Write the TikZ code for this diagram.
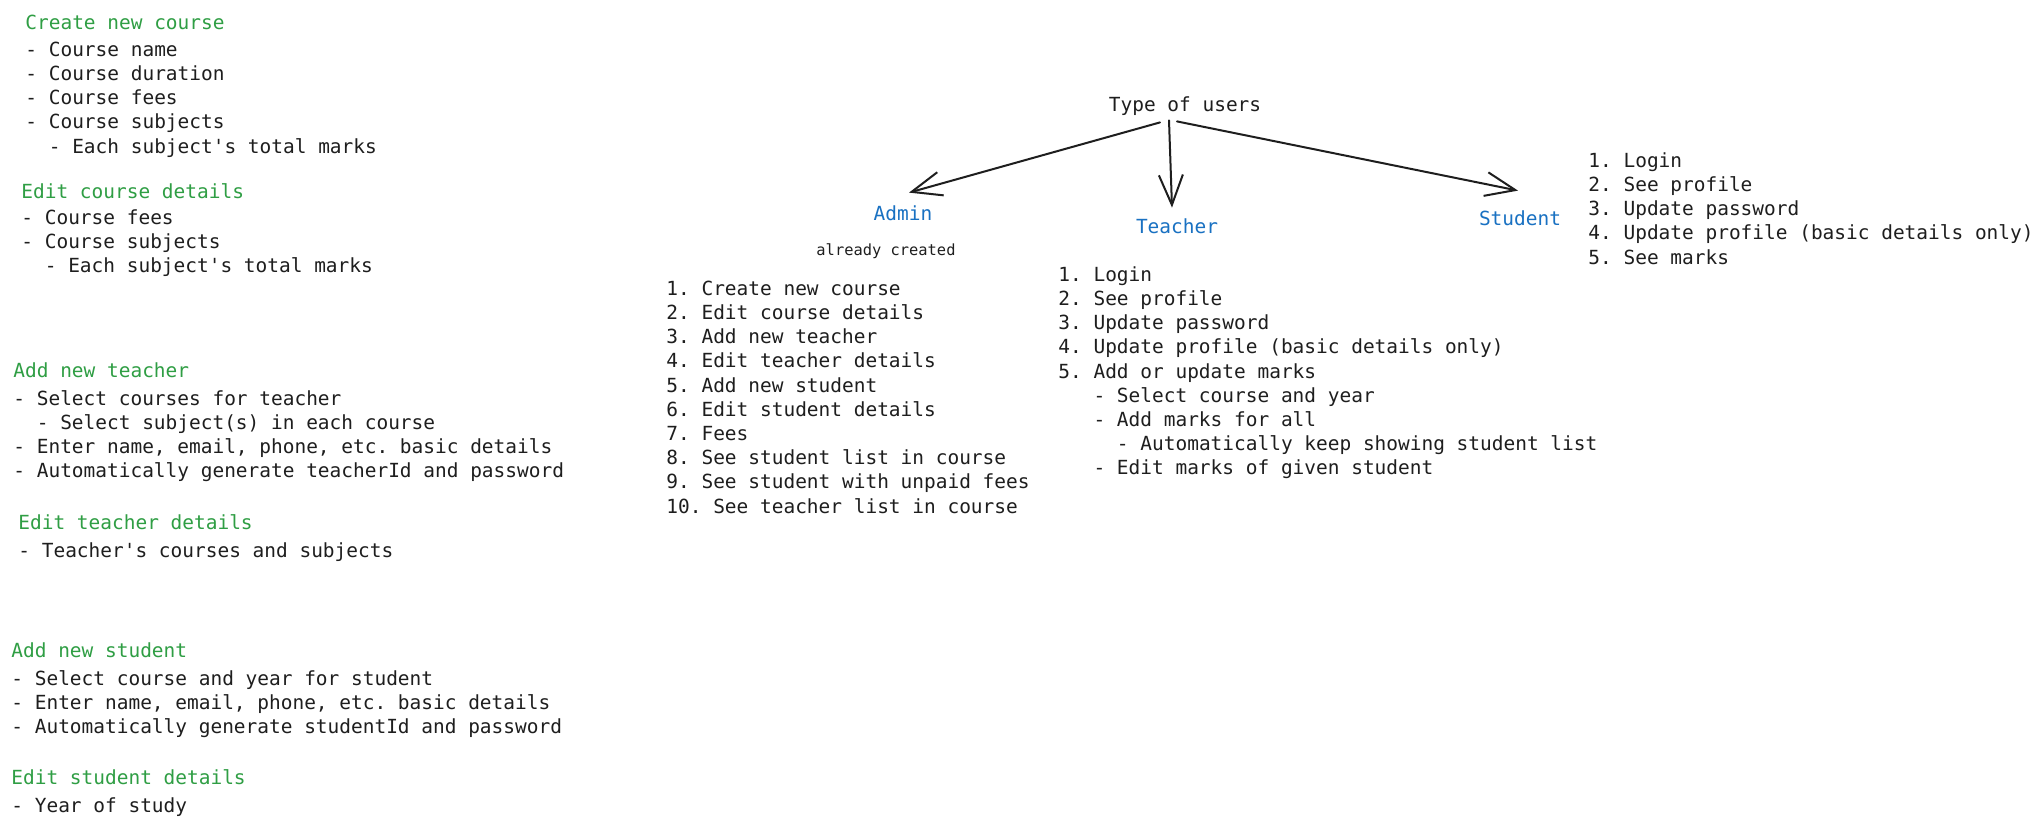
\documentclass[tikz,border=0pt]{standalone}
\usepackage{fontspec}
\setmonofont{DejaVu Sans Mono}
\usetikzlibrary{arrows.meta}
\definecolor{ink}{HTML}{1E1E1E}
\definecolor{grn}{HTML}{2F9E44}
\definecolor{blu}{HTML}{1971C2}
\newcommand\codefont{\ttfamily\fontsize{9.73}{12.1}\selectfont}
\newcommand\smallcode{\ttfamily\fontsize{7.7}{9.6}\selectfont}
\newcommand\ii{\strut\phantom{00}}
\newcommand\iii{\strut\phantom{000}}
\newcommand\iiiii{\strut\phantom{00000}}
\begin{document}
\begin{tikzpicture}[x=0.5pt,y=-0.5pt,
  txt/.style={inner sep=0pt, text=ink, font=\codefont},
  blk/.style={txt, anchor=north west, align=left},
  ttl/.style={txt, text=grn, anchor=base west},
  lbl/.style={txt, text=blu, text height=7pt, text depth=2pt},
  arr/.style={draw=ink, line width=1pt, line cap=round, line join=round,
    -{Straight Barb[length=15pt,width=12pt]}}]
\fill[white] (0,0) rectangle (2043,827);
\useasboundingbox (0,0) rectangle (2043,827);

% left column
\node[ttl] (cnct) at (25,29) {Create new course};
\node[blk] (cncl) at (25,39) {\strut- Course name\\\strut- Course duration\\\strut- Course fees\\\strut- Course subjects\\\ii- Each subject's total marks};
\node[ttl] (ecdt) at (21,198) {Edit course details};
\node[blk] (ecdl) at (21,207) {\strut- Course fees\\\strut- Course subjects\\\ii- Each subject's total marks};
\node[ttl] (antt) at (13,377) {Add new teacher};
\node[blk] (antl) at (13,388) {\strut- Select courses for teacher\\\ii- Select subject(s) in each course\\\strut- Enter name, email, phone, etc. basic details\\\strut- Automatically generate teacherId and password};
\node[ttl] (etdt) at (18,529) {Edit teacher details};
\node[blk] (etdl) at (18,540) {\strut- Teacher's courses and subjects};
\node[ttl] (anst) at (11,657) {Add new student};
\node[blk] (ansl) at (11,668) {\strut- Select course and year for student\\\strut- Enter name, email, phone, etc. basic details\\\strut- Automatically generate studentId and password};
\node[ttl] (esdt) at (11,784) {Edit student details};
\node[blk] (esdl) at (11,795) {\strut- Year of study};

% user types
\node[txt, text height=7pt, text depth=2pt] (types) at (1185,106) {Type of users};
\node[lbl] (admin) at (903,215) {Admin};
\node[lbl] (teacher) at (1177,228) {Teacher};
\node[lbl] (student) at (1520,220) {Student};
\node[txt, font=\smallcode] (already) at (886,251) {already created};

\draw[arr] ([shift={(-25,7)}]types.south) -- ([shift={(6,-13)}]admin.north);
\draw[arr] ([shift={(-16,5)}]types.south) -- ([shift={(-5,-11)}]teacher.north);
\draw[arr] ([shift={(-8,6)}]types.south) -- ([shift={(-2,-20)}]student.north);

\node[blk] (adminl) at (666,278) {\strut1. Create new course\\\strut2. Edit course details\\\strut3. Add new teacher\\\strut4. Edit teacher details\\\strut5. Add new student\\\strut6. Edit student details\\\strut7. Fees\\\strut8. See student list in course\\\strut9. See student with unpaid fees\\\strut10. See teacher list in course};
\node[blk] (teacherl) at (1058,264) {\strut1. Login\\\strut2. See profile\\\strut3. Update password\\\strut4. Update profile (basic details only)\\\strut5. Add or update marks\\\iii- Select course and year\\\iii- Add marks for all\\\iiiii- Automatically keep showing student list\\\iii- Edit marks of given student};
\node[blk] (studentl) at (1588,150) {\strut1. Login\\\strut2. See profile\\\strut3. Update password\\\strut4. Update profile (basic details only)\\\strut5. See marks};
\end{tikzpicture}
\end{document}
